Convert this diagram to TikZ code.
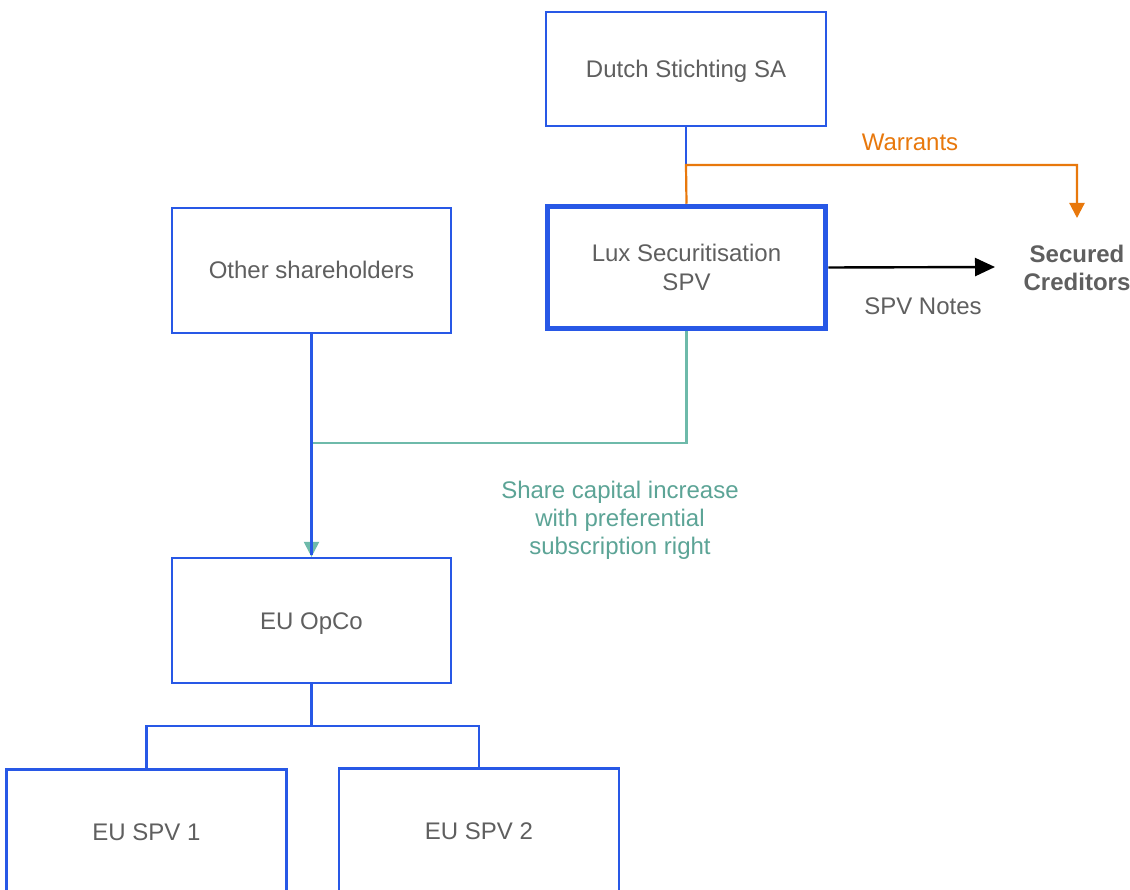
\documentclass[tikz,border=0pt]{standalone}
\usepackage{fontspec}
\setmainfont{Liberation Sans}
\usetikzlibrary{arrows.meta}
\definecolor{boxblue}{RGB}{40,88,230}
\definecolor{txtgray}{RGB}{95,95,95}
\definecolor{warrant}{RGB}{232,120,12}
\definecolor{tealline}{RGB}{110,186,170}
\definecolor{tealtext}{RGB}{92,164,150}
\tikzset{
  entity/.style={draw=boxblue, line width=2.2pt, fill=white, inner sep=0pt,
    minimum width=280pt, minimum height=125pt, align=center,
    text=txtgray, font=\fontsize{24}{29}\selectfont},
  oneline/.style={text height=17pt, text depth=0pt},
  link/.style={draw=boxblue, line width=2.2pt},
  tip/.style={-{Triangle[width=15pt,length=15pt]}},
  lbl/.style={font=\fontsize{24}{28}\selectfont, align=center, inner sep=0pt}
}
\begin{document}
\begin{tikzpicture}[x=1pt,y=-1pt]
\clip (0,0) rectangle (1130,890);
\fill[white] (0,0) rectangle (1130,890);

% entities
\node[entity, oneline, minimum height=114pt] (dutch) at (686,69) {Dutch Stichting SA};
\node[entity, line width=5.5pt, minimum width=278pt, minimum height=122pt] (lux) at (686.5,267.5) {Lux Securitisation\\SPV};
\node[entity, oneline, minimum width=279pt] (other) at (311.5,270.5) {Other shareholders};
\node[entity, oneline, minimum width=279pt] (opco) at (311.5,620.5) {EU OpCo};
\node[entity, oneline] (spv1) at (146.5,832) {EU SPV 1};
\node[entity, oneline] (spv2) at (479,831) {EU SPV 2};

\node[lbl, font=\fontsize{24}{28}\selectfont\bfseries, text=txtgray] (secured) at (1077,268) {Secured\\Creditors};
\coordinate (credtop) at (1077,218);
\coordinate (credleft) at (995,267);

% warrants to secured creditors
\coordinate (wjoin) at (686,165);
\draw[link] (dutch.south) -- (wjoin);
\draw[warrant, line width=2.2pt, tip] (lux.north) -- (wjoin) -| (credtop);
\node[lbl, text=warrant] (wlabel) at (910,142) {Warrants};

% SPV notes
\draw[black, line width=2.4pt, -{Triangle[width=18pt,length=20pt]}] (lux.east) -- (credleft);
\node[lbl, text=txtgray] (notes) at (923,306) {SPV Notes};

% share capital increase
\coordinate (sjoin) at (311.5,443);
\draw[tealline, line width=2.2pt, tip] (lux.south) |- (sjoin) -- (opco.north);
\draw[link] (other.south) -- ([yshift=2pt]opco.north);
\node[lbl, text=tealtext] (share) at (620,520) {Share capital increase\\with preferential\\subscription right};

% subsidiaries
\coordinate (bjoin) at (311.5,726);
\draw[link] (opco.south) -- (bjoin);
\draw[link] (bjoin) -| (spv1.north);
\draw[link] (bjoin) -| (spv2.north);
\end{tikzpicture}
\end{document}
